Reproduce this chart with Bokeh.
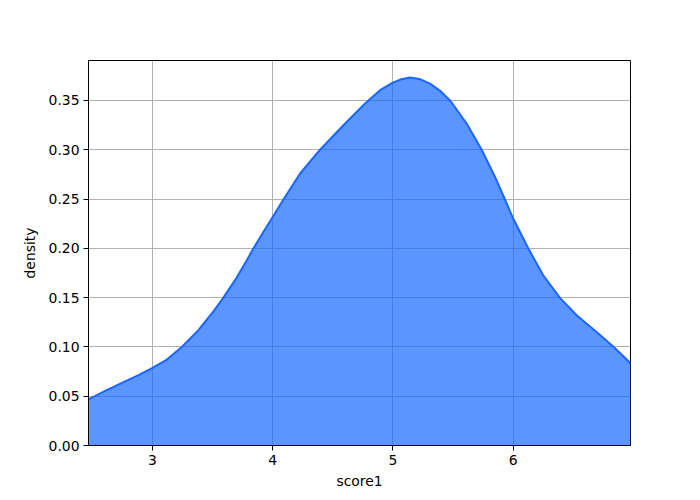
from bokeh.plotting import figure
from bokeh.models import Range1d, FixedTicker, PrintfTickFormatter, ColumnDataSource
from bokeh.embed import file_html
from bokeh.resources import INLINE

# KDE curve of score1
score1 = [2.468, 2.607, 2.746, 2.884, 3.0, 3.12, 3.244, 3.382, 3.494, 3.59, 3.687,
          3.785, 3.84, 3.92, 4.0, 4.089, 4.228, 4.394, 4.588, 4.768, 4.893, 4.995,
          5.07, 5.142, 5.22, 5.308, 5.39, 5.475, 5.613, 5.738, 5.849, 5.932, 6.0,
          6.126, 6.25, 6.389, 6.528, 6.694, 6.832, 6.976]
density = [0.0467, 0.0554, 0.0635, 0.0713, 0.0787, 0.0872, 0.100, 0.1169, 0.1339,
           0.150, 0.1677, 0.188, 0.200, 0.216, 0.2318, 0.2495, 0.2759, 0.300,
           0.3248, 0.3469, 0.3604, 0.3678, 0.3715, 0.3732, 0.3718, 0.367, 0.360,
           0.350, 0.3266, 0.300, 0.2724, 0.2495, 0.2302, 0.1998, 0.1727, 0.1497,
           0.1321, 0.1152, 0.1004, 0.0834]
zeros = [0.0] * len(score1)

x_ticks = [3, 4, 5, 6]
y_ticks = [0.0, 0.05, 0.10, 0.15, 0.20, 0.25, 0.30, 0.35]

src = ColumnDataSource(dict(x=score1, y=density, z=zeros))

FONT = "DejaVu Sans"

p = figure(frame_width=542, frame_height=385,
           x_range=Range1d(2.468, 6.976), y_range=Range1d(0, 0.3905),
           output_backend="svg", toolbar_location=None,
           min_border_left=88, min_border_right=54, min_border_top=60,
           min_border_bottom=45)
p.background_fill_color = "white"
p.border_fill_color = "white"
p.outline_line_color = "black"
p.outline_line_width = 1
p.outline_line_alpha = 1

p.varea(x="x", y1="z", y2="y", source=src, fill_color="#1568ff", fill_alpha=0.7)
p.line(x="x", y="y", source=src, line_color="#1a66ff", line_width=2,
       line_join="round")

for ax in (p.xaxis[0], p.yaxis[0]):
    ax.axis_line_color = "black"
    ax.major_tick_line_color = "black"
    ax.major_tick_out = 5
    ax.major_tick_in = 0
    ax.minor_tick_line_color = None
    ax.major_label_text_font = FONT
    ax.major_label_text_font_size = "13.9px"
    ax.major_label_text_color = "black"
    ax.axis_label_text_font = FONT
    ax.axis_label_text_font_size = "13.9px"
    ax.axis_label_text_font_style = "normal"
    ax.axis_label_text_color = "black"
    ax.major_label_standoff = 4

p.xaxis.ticker = FixedTicker(ticks=x_ticks)
p.yaxis.ticker = FixedTicker(ticks=y_ticks)
p.yaxis.formatter = PrintfTickFormatter(format="%.2f")
p.xaxis.axis_label = "score1"
p.yaxis.axis_label = "density"
p.xaxis.axis_label_standoff = 5
p.yaxis.axis_label_standoff = 8

p.xgrid.grid_line_color = "#b0b0b0"
p.ygrid.grid_line_color = "#b0b0b0"
p.xgrid.grid_line_width = 1
p.ygrid.grid_line_width = 1

open("out.html", "w").write(file_html(p, INLINE))
